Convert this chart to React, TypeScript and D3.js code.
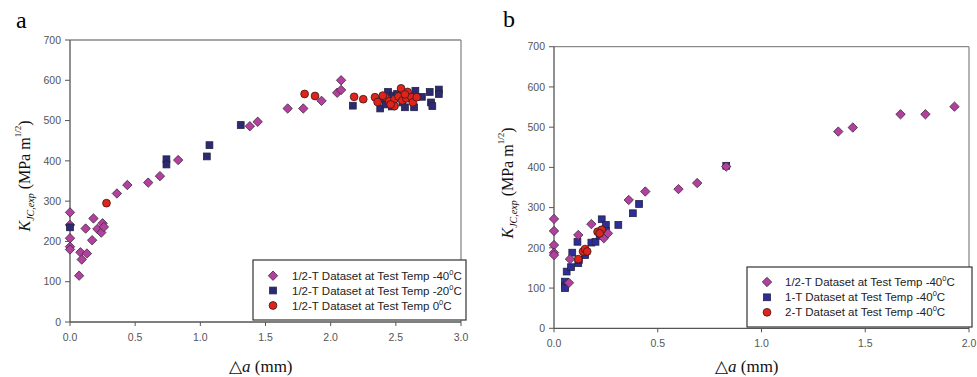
import React from "react";
import * as d3 from "d3";

// ---------- Panel a data ----------
const aDiamondX = [0, 0, 0, 0, 0, 0.07, 0.08, 0.09, 0.12, 0.13, 0.17, 0.18, 0.21, 0.24, 0.25, 0.26, 0.36, 0.44, 0.6, 0.69, 0.83, 1.38, 1.44, 1.67, 1.79, 1.93, 2.05, 2.08, 2.08];
const aDiamondY = [272, 241, 208, 187, 180, 115, 173, 155, 232, 170, 203, 257, 231, 222, 245, 236, 319, 340, 346, 362, 402, 486, 497, 530, 530, 549, 569, 576, 600];
const aSquareX = [0, 0.74, 0.74, 1.05, 1.07, 1.31, 2.17, 2.38, 2.42, 2.44, 2.48, 2.51, 2.55, 2.57, 2.6, 2.64, 2.65, 2.7, 2.76, 2.77, 2.78, 2.83, 2.83, 2.47, 2.4];
const aSquareY = [235, 404, 391, 411, 439, 489, 537, 530, 540, 571, 562, 566, 545, 533, 560, 533, 574, 559, 571, 545, 536, 577, 566, 535, 555];
const aCircleX = [0.28, 1.8, 1.88, 2.18, 2.25, 2.34, 2.36, 2.42, 2.45, 2.49, 2.49, 2.52, 2.54, 2.55, 2.58, 2.59, 2.62, 2.63, 2.66, 2.46, 2.4, 2.57];
const aCircleY = [295, 566, 561, 559, 553, 558, 546, 558, 548, 553, 536, 560, 580, 550, 555, 571, 558, 545, 558, 540, 562, 565];

// ---------- Panel b data ----------
const bDiamondX = [0, 0, 0, 0, 0, 0.072, 0.077, 0.117, 0.18, 0.24, 0.26, 0.36, 0.44, 0.6, 0.69, 0.83, 1.37, 1.44, 1.67, 1.79, 1.93];
const bDiamondY = [272, 242, 207, 188, 182, 113, 172, 232, 259, 224, 236, 319, 340, 346, 361, 402, 489, 499, 532, 532, 551];
const bSquareX = [0.053, 0.053, 0.053, 0.061, 0.082, 0.088, 0.113, 0.117, 0.15, 0.18, 0.2, 0.23, 0.25, 0.25, 0.31, 0.38, 0.41, 0.83, 0.12, 0.22];
const bSquareY = [116, 105, 100, 141, 152, 188, 215, 162, 182, 213, 215, 271, 257, 242, 257, 286, 309, 404, 170, 230];
const bCircleX = [0.117, 0.14, 0.15, 0.16, 0.21, 0.23, 0.22];
const bCircleY = [172, 191, 197, 191, 240, 245, 236];

// ---------- Ticks / labels ----------
const yTicks = [0, 100, 200, 300, 400, 500, 600, 700];
const aXTicks = [0, 0.5, 1.0, 1.5, 2.0, 2.5, 3.0];
const bXTicks = [0, 0.5, 1.0, 1.5, 2.0];
const aLegend = [
  { pre: "1/2-T Dataset at Test Temp -40", sym: "diamond" },
  { pre: "1/2-T Dataset at Test Temp -20", sym: "square" },
  { pre: "1/2-T Dataset at Test Temp 0", sym: "circle" },
];
const bLegend = [
  { pre: "1/2-T Dataset at Test Temp -40", sym: "diamond" },
  { pre: "1-T Dataset at Test Temp -40", sym: "square" },
  { pre: "2-T Dataset at Test Temp -40", sym: "circle" },
];

const DIAMOND = "#b3409f";
const SERIF = "'Liberation Serif', 'Times New Roman', serif";
const SANS = "'Liberation Sans', Arial, sans-serif";

type P = {
  left: number; right: number; top: number; bottom: number; xMax: number; xTicks: number[];
  letter: string; letterX: number; letterY: number;
  dX: number[]; dY: number[]; sX: number[]; sY: number[]; cX: number[]; cY: number[];
  order: string[];
  squareColor: string;
  legend: { pre: string; sym: string }[];
  lg: { x0: number; x1: number; y0: number; y1: number; rows: number[]; mx: number; tx: number };
  ylabX: number; ylabY: number; xlabX: number; xlabY: number;
};

function Marker({ sym, x, y, sq }: { sym: string; x: number; y: number; sq: string }) {
  if (sym === "diamond") {
    const r = 4.7;
    return <path d={`M${x},${y - r}L${x + r},${y}L${x},${y + r}L${x - r},${y}Z`} fill={DIAMOND} stroke="#3a2a3a" strokeWidth={0.8} />;
  }
  if (sym === "square") {
    const h = 3.4;
    return <rect x={x - h} y={y - h} width={2 * h} height={2 * h} fill={sq} stroke="#222244" strokeWidth={0.8} />;
  }
  return <circle cx={x} cy={y} r={3.9} fill="#e0231b" stroke="#3a1a1a" strokeWidth={0.8} />;
}

function Panel(p: P) {
  const x = d3.scaleLinear().domain([0, p.xMax]).range([p.left, p.right]);
  const y = d3.scaleLinear().domain([0, 700]).range([p.bottom, p.top]);
  const fmt = d3.format(".1f");
  const series: Record<string, { xs: number[]; ys: number[] }> = {
    diamond: { xs: p.dX, ys: p.dY },
    square: { xs: p.sX, ys: p.sY },
    circle: { xs: p.cX, ys: p.cY },
  };
  return (
    <g>
      <text x={p.letterX} y={p.letterY} fontFamily={SERIF} fontSize={24}>{p.letter}</text>
      {/* frame */}
      <line x1={p.left} x2={p.right} y1={p.top} y2={p.top} stroke="#8a8a8a" strokeWidth={1.3} />
      <line x1={p.right} x2={p.right} y1={p.top} y2={p.bottom} stroke="#8a8a8a" strokeWidth={1.3} />
      <line x1={p.left} x2={p.left} y1={p.top} y2={p.bottom} stroke="#555" strokeWidth={1.3} />
      <line x1={p.left} x2={p.right} y1={p.bottom} y2={p.bottom} stroke="#555" strokeWidth={1.3} />
      {yTicks.map((t) => (
        <g key={"y" + t}>
          <line x1={p.left - 5} x2={p.left} y1={y(t)} y2={y(t)} stroke="#555" strokeWidth={1} />
          <text x={p.left - 9} y={y(t)} dy="0.35em" textAnchor="end" fontFamily={SANS} fontSize={10.5} fill="#555">{t}</text>
        </g>
      ))}
      {p.xTicks.map((t) => (
        <g key={"x" + t}>
          <line x1={x(t)} x2={x(t)} y1={p.bottom} y2={p.bottom + 4} stroke="#555" strokeWidth={1} />
          <text x={x(t)} y={p.bottom + 15} dy="0.35em" textAnchor="middle" fontFamily={SANS} fontSize={10.5} fill="#555">{fmt(t)}</text>
        </g>
      ))}
      {/* data */}
      {p.order.map((sym) =>
        series[sym].xs.map((v, i) => (
          <Marker key={sym + i} sym={sym} x={x(v)} y={y(series[sym].ys[i])} sq={p.squareColor} />
        ))
      )}
      {/* legend */}
      <rect x={p.lg.x0} y={p.lg.y0} width={p.lg.x1 - p.lg.x0} height={p.lg.y1 - p.lg.y0} fill="#fff" stroke="#333" strokeWidth={1.2} />
      {p.legend.map((l, i) => (
        <g key={"l" + i}>
          <Marker sym={l.sym} x={p.lg.mx} y={p.lg.rows[i]} sq={p.squareColor} />
          <text x={p.lg.tx} y={p.lg.rows[i]} dy="0.35em" fontFamily={SANS} fontSize={11.5} fill="#222">
            {l.pre}
            <tspan fontSize={7.5} dy={-5}>0</tspan>
            <tspan dy={5}>C</tspan>
          </text>
        </g>
      ))}
      {/* y label */}
      <text transform={`translate(${p.ylabX},${p.ylabY}) rotate(-90)`} textAnchor="middle" fontFamily={SERIF} fontSize={16} fill="#111">
        <tspan fontStyle="italic">K</tspan>
        <tspan fontStyle="italic" fontSize={10} dy={4}>JC,exp</tspan>
        <tspan dy={-4}> (MPa m</tspan>
        <tspan fontSize={9} dy={-9}>1/2</tspan>
        <tspan dy={9}>)</tspan>
      </text>
      {/* x label */}
      <text x={p.xlabX} y={p.xlabY} fontFamily={SERIF} fontSize={17} fill="#111">
        <tspan>△</tspan>
        <tspan fontStyle="italic">a</tspan>
        <tspan> (mm)</tspan>
      </text>
    </g>
  );
}

export default function App() {
  return (
    <svg width={977} height={377} style={{ position: "absolute", left: 0, top: 0, background: "#fff" }}>
      <Panel left={70} right={461} top={40} bottom={322} xMax={3} xTicks={aXTicks}
        letter="a" letterX={16} letterY={28}
        dX={aDiamondX} dY={aDiamondY} sX={aSquareX} sY={aSquareY} cX={aCircleX} cY={aCircleY}
        order={["diamond", "square", "circle"]}
        squareColor="#2b2a72" legend={aLegend}
        lg={{ x0: 253, x1: 466, y0: 260, y1: 320, rows: [275.7, 290.5, 305.5], mx: 273, tx: 292 }}
        ylabX={30} ylabY={176} xlabX={229} xlabY={372} />
      <Panel left={554} right={969} top={46.7} bottom={328.3} xMax={2} xTicks={bXTicks}
        letter="b" letterX={503} letterY={27}
        dX={bDiamondX} dY={bDiamondY} sX={bSquareX} sY={bSquareY} cX={bCircleX} cY={bCircleY}
        order={["square", "diamond", "circle"]}
        squareColor="#2e2e96" legend={bLegend}
        lg={{ x0: 747, x1: 972, y0: 267, y1: 327, rows: [282, 297.3, 312.3], mx: 767, tx: 785 }}
        ylabX={513} ylabY={183} xlabX={715} xlabY={372} />
    </svg>
  );
}
